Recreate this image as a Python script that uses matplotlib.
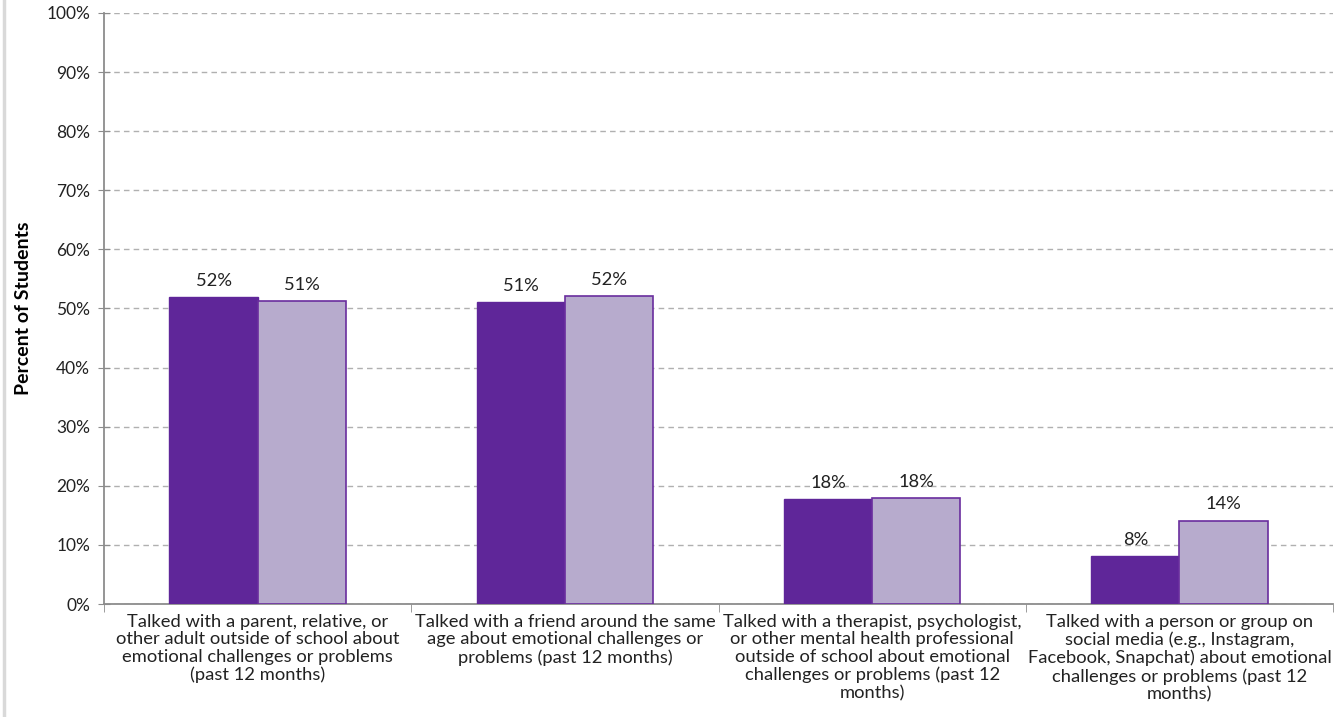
import matplotlib.pyplot as plt
import matplotlib.lines as mlines
import numpy as np

plt.rcParams['font.family'] = ['Lato', 'DejaVu Sans']

categories = [
    "Talked with a parent, relative, or\nother adult outside of school about\nemotional challenges or problems\n(past 12 months)",
    "Talked with a friend around the same\nage about emotional challenges or\nproblems (past 12 months)",
    "Talked with a therapist, psychologist,\nor other mental health professional\noutside of school about emotional\nchallenges or problems (past 12\nmonths)",
    "Talked with a person or group on\nsocial media (e.g., Instagram,\nFacebook, Snapchat) about emotional\nchallenges or problems (past 12\nmonths)",
]
series_a = [51.9, 51.1, 17.8, 8.1]
series_b = [51.2, 52.1, 17.9, 14.1]
labels_a = ["52%", "51%", "18%", "8%"]
labels_b = ["51%", "52%", "18%", "14%"]

dark = '#5f2699'
light = '#b7abcd'
edge = '#6a2e9e'

fig = plt.figure(figsize=(13.42, 7.17), dpi=100)
ax = fig.add_axes([0.0775, 0.1576, 0.9158, 0.8243])

x = np.arange(len(categories))
w = 0.287
bars_a = ax.bar(x - w / 2, series_a, w, color=dark, edgecolor=dark, linewidth=1, zorder=3)
bars_b = ax.bar(x + w / 2, series_b, w, color=light, edgecolor=edge, linewidth=1.2, zorder=3)

for b, t in zip(bars_a, labels_a):
    ax.text(b.get_x() + b.get_width() / 2, b.get_height() + 1.4, t,
            ha='center', va='bottom', fontsize=13.2, color='#222222')
for b, t in zip(bars_b, labels_b):
    ax.text(b.get_x() + b.get_width() / 2, b.get_height() + 1.4, t,
            ha='center', va='bottom', fontsize=13.2, color='#222222')

ax.set_xlim(-0.5, len(categories) - 0.5)
ax.set_ylim(0, 100)
ax.set_yticks(np.arange(0, 101, 10))
ax.set_yticklabels([f"{v}%" for v in range(0, 101, 10)], fontsize=12.5, color='#222222')
ax.yaxis.grid(True, linestyle=(0, (4, 3)), color='#b0b0b0', linewidth=1, zorder=0)
ax.tick_params(axis='y', direction='inout', length=8, color='#8c8c8c', pad=6)

ax.set_xticks(x)
ax.set_xticklabels(categories, fontsize=13.2, color='#222222', linespacing=1.13)
ax.tick_params(axis='x', length=0, pad=7)
ax.set_xticks(np.arange(-0.5, len(categories), 1), minor=True)
ax.tick_params(axis='x', which='minor', length=6, color='#8c8c8c', direction='out')

for s in ['top', 'right']:
    ax.spines[s].set_visible(False)
for s in ['left', 'bottom']:
    ax.spines[s].set_color('#8c8c8c')
    ax.spines[s].set_linewidth(1.3)

ax.set_ylabel("Percent of Students", fontsize=14, fontweight='bold', labelpad=10)

fig.add_artist(mlines.Line2D([0.003, 0.003], [0, 1], color='#d9d9d9', linewidth=2.5))

fig.savefig('out.png', dpi=100)
